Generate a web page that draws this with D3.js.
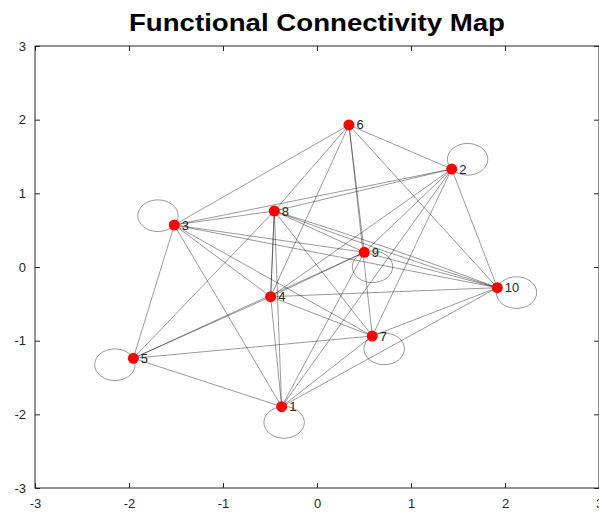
<!DOCTYPE html>
<html>
<head>
<meta charset="utf-8">
<script src="https://cdn.jsdelivr.net/npm/d3@7"></script>
<style>
  html, body { margin: 0; padding: 0; background: #ffffff; }
  svg { display: block; }
</style>
</head>
<body>
<script>
// ---- data ----
const titleText = "Functional Connectivity Map";
const xTicks = [-3, -2, -1, 0, 1, 2, 3];
const yTicks = [-3, -2, -1, 0, 1, 2, 3];
const nodeIds = [1, 2, 3, 4, 5, 6, 7, 8, 9, 10];
const nodeX = [-0.376, 1.433, -1.518, -0.493, -1.954, 0.340, 0.588, -0.454, 0.503, 1.918];
const nodeY = [-1.896, 1.330, 0.570, -0.403, -1.239, 1.928, -0.937, 0.760, 0.200, -0.281];
const edges = [
  [1,3],[1,4],[1,5],[1,7],[1,8],[1,9],[1,10],
  [2,3],[2,4],[2,6],[2,7],[2,8],[2,9],[2,10],[2,1],
  [3,4],[3,5],[3,6],[3,7],[3,8],[3,9],[3,10],
  [4,5],[4,6],[4,7],[4,8],[4,8],[4,9],[4,10],
  [5,7],[5,8],[5,9],
  [6,7],[6,8],[6,9],[6,10],
  [7,10],
  [8,9],[8,7],
  [9,10]
];
const curvedPairs = [[8,10]];
const loopNodes = [1, 2, 3, 5, 7, 9, 10];
const loopAngles = [-83, 38, 144, -156, -54, -66, -18];

// ---- layout ----
const W = 599, H = 515;
const svg = d3.select("body").append("svg").attr("width", W).attr("height", H);
const x = d3.scaleLinear().domain([-3, 3]).range([35, 599]);
const y = d3.scaleLinear().domain([-3, 3]).range([488, 46]);
const axisColor = "#262626";
const font = "'Liberation Sans', Arial, Helvetica, sans-serif";
const fmt = d => String(d);

// box
svg.append("rect").attr("x", x(-3)).attr("y", y(3))
  .attr("width", x(3) - x(-3)).attr("height", y(-3) - y(3))
  .attr("fill", "#fff").attr("stroke", axisColor).attr("stroke-width", 1);

function styleAxis(g, showLabels) {
  g.select(".domain").remove();
  g.selectAll(".tick line").attr("stroke", axisColor);
  g.selectAll(".tick text").attr("fill", axisColor)
    .style("font-family", font).style("font-size", "13px");
  if (!showLabels) g.selectAll(".tick text").remove();
}
svg.append("g").attr("transform", `translate(0,${y(-3)})`)
  .call(d3.axisBottom(x).tickValues(xTicks).tickSize(-5).tickSizeOuter(0).tickPadding(11).tickFormat(fmt))
  .call(g => styleAxis(g, true));
svg.append("g").attr("transform", `translate(0,${y(3)})`)
  .call(d3.axisTop(x).tickValues(xTicks).tickSize(-5).tickSizeOuter(0))
  .call(g => styleAxis(g, false));
svg.append("g").attr("transform", `translate(${x(-3)},0)`)
  .call(d3.axisLeft(y).tickValues(yTicks).tickSize(-5).tickSizeOuter(0).tickPadding(9).tickFormat(fmt))
  .call(g => styleAxis(g, true));
svg.append("g").attr("transform", `translate(${x(3)},0)`)
  .call(d3.axisRight(y).tickValues(yTicks).tickSize(-5).tickSizeOuter(0))
  .call(g => styleAxis(g, false));

// title
svg.append("text").attr("x", (x(-3) + x(3)) / 2).attr("y", 31)
  .attr("text-anchor", "middle")
  .attr("textLength", 376).attr("lengthAdjust", "spacingAndGlyphs")
  .style("font-family", font).style("font-weight", "bold").style("font-size", "24px")
  .attr("fill", "#000").text(titleText);

const idx = id => nodeIds.indexOf(id);
const px = id => x(nodeX[idx(id)]);
const py = id => y(nodeY[idx(id)]);

const gEdges = svg.append("g").attr("fill", "none").attr("stroke", "#000")
  .attr("stroke-opacity", 0.5).attr("stroke-width", 0.8);

gEdges.selectAll("line.edge").data(edges).join("line").attr("class", "edge")
  .attr("x1", d => px(d[0])).attr("y1", d => py(d[0]))
  .attr("x2", d => px(d[1])).attr("y2", d => py(d[1]));

// curved double edges
curvedPairs.forEach(p => {
  const x1 = px(p[0]), y1 = py(p[0]), x2 = px(p[1]), y2 = py(p[1]);
  const mx = (x1 + x2) / 2, my = (y1 + y2) / 2;
  const len = Math.hypot(x2 - x1, y2 - y1);
  const nx = -(y2 - y1) / len, ny = (x2 - x1) / len;
  [-1, 1].forEach(s => {
    const off = 4 * s;
    gEdges.append("path")
      .attr("d", `M${x1},${y1} Q${mx + nx * off},${my + ny * off} ${x2},${y2}`);
  });
});

// self loops (circles in data units)
const loopR = 0.215;
gEdges.selectAll("ellipse.loop").data(loopNodes).join("ellipse").attr("class", "loop")
  .attr("cx", (d, i) => x(nodeX[idx(d)] + loopR * Math.cos(loopAngles[i] * Math.PI / 180)))
  .attr("cy", (d, i) => y(nodeY[idx(d)] + loopR * Math.sin(loopAngles[i] * Math.PI / 180)))
  .attr("rx", x(loopR) - x(0))
  .attr("ry", y(0) - y(loopR));

// nodes
svg.append("g").selectAll("circle").data(nodeIds).join("circle")
  .attr("cx", d => px(d)).attr("cy", d => py(d)).attr("r", 5.5)
  .attr("fill", "#ff0000");

// labels
svg.append("g").selectAll("text").data(nodeIds).join("text")
  .attr("x", d => px(d) + 7.5).attr("y", d => py(d) + 4.5)
  .style("font-family", font).style("font-size", "13px")
  .attr("fill", axisColor).text(d => d);
</script>
</body>
</html>
